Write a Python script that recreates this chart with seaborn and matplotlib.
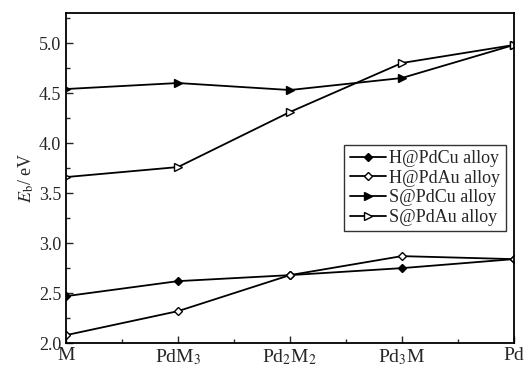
import matplotlib
matplotlib.use("Agg")
import matplotlib.pyplot as plt
import seaborn as sns
import pandas as pd
from matplotlib.ticker import MultipleLocator

sns.set_style("ticks")
plt.rcParams['font.family'] = ['Liberation Serif', 'DejaVu Serif']
plt.rcParams['mathtext.fontset'] = 'stix'

compositions = ['M', 'PdM$_3$', 'Pd$_2$M$_2$', 'Pd$_3$M', 'Pd']
h_pdcu = [2.47, 2.62, 2.68, 2.75, 2.84]
h_pdau = [2.08, 2.32, 2.68, 2.87, 2.84]
s_pdcu = [4.54, 4.60, 4.53, 4.65, 4.98]
s_pdau = [3.66, 3.76, 4.31, 4.80, 4.98]

series = [
    ('H@PdCu alloy', h_pdcu, 'D', 'black'),
    ('H@PdAu alloy', h_pdau, 'D', 'white'),
    ('S@PdCu alloy', s_pdcu, '>', 'black'),
    ('S@PdAu alloy', s_pdau, '>', 'white'),
]

fig, ax = plt.subplots(figsize=(5.28, 3.71), dpi=100)
for name, vals, mk, fc in series:
    df = pd.DataFrame({'x': range(len(compositions)), 'y': vals})
    sns.lineplot(data=df, x='x', y='y', ax=ax, color='black', lw=1.3,
                 marker=mk, markersize=4.5 if mk == 'D' else 5.5, markerfacecolor=fc,
                 markeredgecolor='black', markeredgewidth=1.0, label=name, clip_on=True)

ax.set_xlim(0, 4)
ax.set_ylim(2.0, 5.3)
ax.set_xticks(range(len(compositions)))
ax.set_xticklabels(compositions, fontsize=14)
ax.xaxis.set_minor_locator(MultipleLocator(0.5))
ax.yaxis.set_major_locator(MultipleLocator(0.5))
ax.yaxis.set_minor_locator(MultipleLocator(0.25))
ax.yaxis.set_major_formatter(matplotlib.ticker.FormatStrFormatter('%.1f'))
ax.tick_params(which='both', direction='in', top=False, right=False, labelsize=13)
ax.tick_params(which='major', length=5, width=1)
ax.tick_params(which='minor', length=3, width=1)
ax.tick_params(axis='x', pad=3, labelsize=14)
for s in ax.spines.values():
    s.set_linewidth(1.3)
    s.set_color('black')
ax.set_xlabel('')
ax.set_ylabel('$E_\\mathrm{b}$/ eV', fontsize=13, labelpad=2)

leg = ax.legend(loc='center right', bbox_to_anchor=(0.99, 0.47), fontsize=13,
                frameon=True, fancybox=False, edgecolor='black', handlelength=2.0,
                handletextpad=0.2, borderpad=0.3, labelspacing=0.15, borderaxespad=0.2)
leg.get_frame().set_linewidth(1.0)

plt.subplots_adjust(left=0.125, right=0.973, top=0.965, bottom=0.075)
fig.savefig('out.png', dpi=100)
